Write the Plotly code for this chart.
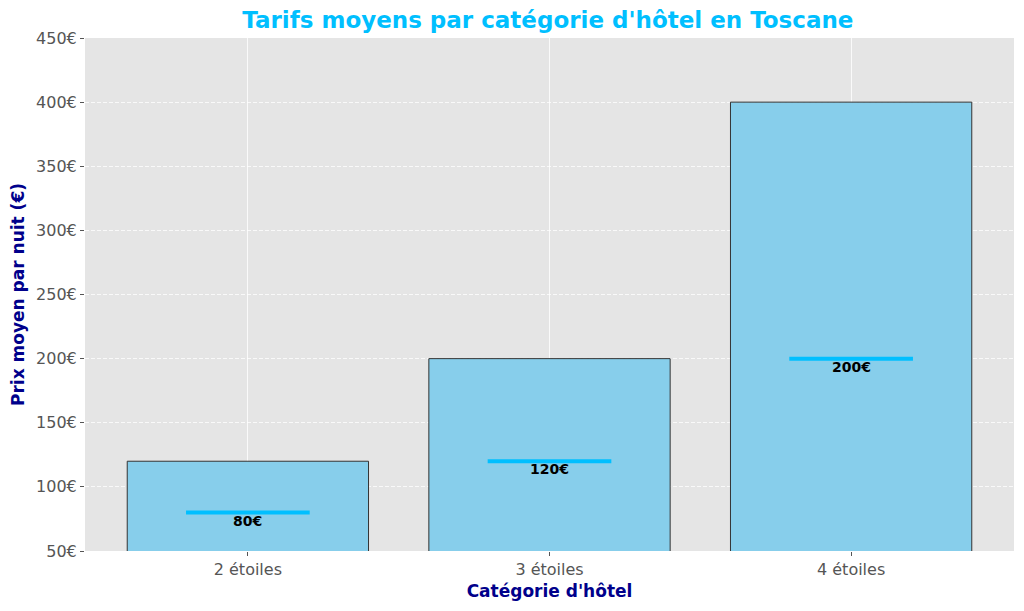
import plotly.graph_objects as go

categories = ["2 étoiles", "3 étoiles", "4 étoiles"]
avg_prices = [120, 200, 400]
min_prices = [80, 120, 200]
y_ticks = [50, 100, 150, 200, 250, 300, 350, 400, 450]

xs = list(range(len(categories)))

fig = go.Figure()
fig.add_trace(go.Bar(
    x=xs, y=avg_prices, width=0.8,
    marker=dict(color="#87CEEB", line=dict(color="#333333", width=1)),
    showlegend=False, hoverinfo="skip",
))

lx, ly = [], []
for i, v in zip(xs, min_prices):
    lx += [i - 0.205, i + 0.205, None]
    ly += [v, v, None]
fig.add_trace(go.Scatter(x=lx, y=ly, mode="lines",
                         line=dict(color="#00BFFF", width=4),
                         showlegend=False, hoverinfo="skip"))

for i, v in zip(xs, min_prices):
    fig.add_annotation(x=i, y=v, text=f"<b>{v}€</b>", showarrow=False,
                       yanchor="top", yshift=2,
                       font=dict(family="DejaVu Sans", size=14, color="black"))

fig.update_layout(
    width=1024, height=611,
    margin=dict(l=85, r=10, t=38, b=60),
    paper_bgcolor="white", plot_bgcolor="#E5E5E5",
    font=dict(family="DejaVu Sans", color="#555555"),
    title=dict(text="<b>Tarifs moyens par catégorie d'hôtel en Toscane</b>",
               x=0.535, xanchor="center", y=0.967, yanchor="middle",
               font=dict(family="DejaVu Sans", size=23, color="#00BFFF")),
)
fig.update_xaxes(
    range=[-0.54, 2.54], tickvals=xs, ticktext=categories,
    showgrid=True, gridcolor="rgba(255,255,255,0.8)", gridwidth=1,
    ticks="outside", ticklen=4, tickcolor="#555555",
    tickfont=dict(size=16, color="#555555"), zeroline=False,
    title=dict(text="<b>Catégorie d'hôtel</b>", standoff=6,
               font=dict(family="DejaVu Sans", size=17, color="#00008B")),
)
fig.update_yaxes(
    range=[50, 450], tickvals=y_ticks, ticktext=[f"{t}€" for t in y_ticks],
    showgrid=True, gridcolor="rgba(255,255,255,0.75)", gridwidth=1, griddash="4px,2px",
    ticks="outside", ticklen=4, tickcolor="#555555",
    tickfont=dict(size=16, color="#555555"), zeroline=False,
    title=dict(text="<b>Prix moyen par nuit (€)</b>", standoff=7,
               font=dict(family="DejaVu Sans", size=17, color="#00008B")),
)

fig.write_html("out.html")
